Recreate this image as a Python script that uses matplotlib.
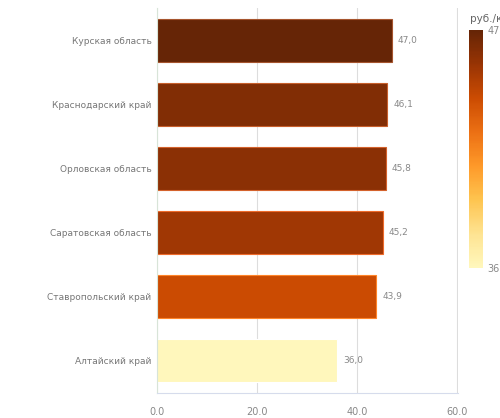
import matplotlib.pyplot as plt
from matplotlib import colors as mcolors
import numpy as np

regions = ["Курская область", "Краснодарский край", "Орловская область",
           "Саратовская область", "Ставропольский край", "Алтайский край"]
values = [47.0, 46.1, 45.8, 45.2, 43.9, 36.0]
xticks = [0, 20, 40, 60]

base = plt.get_cmap("YlOrBr")
cmap = mcolors.LinearSegmentedColormap.from_list(
    "trunc", base(np.linspace(0.125, 1.0, 256)))
norm = mcolors.Normalize(vmin=min(values), vmax=max(values))

fig = plt.figure(figsize=(5, 4.18), dpi=100)
ax = fig.add_axes([0.314, 0.06, 0.602, 0.921])

txt = "#888888"
y = np.arange(len(regions))
for i, v in enumerate(values):
    c = cmap(norm(v))
    edge = tuple(min(1, ch * 1.25 + 0.15) for ch in c[:3])
    ax.barh(i, v, height=0.67, color=c, edgecolor=edge, linewidth=0.8, zorder=2)
    ax.text(v + 1.2, i, f"{v:.1f}".replace(".", ","), va="center", ha="left",
            fontsize=6.5, color=txt)

ax.set_ylim(5.5, -0.5)
ax.set_xlim(0, 60.2)
ax.set_yticks(y)
ax.set_yticklabels(regions, fontsize=6.5, color="#777777")
ax.set_xticks(xticks)
ax.set_xticklabels([f"{t:.1f}" for t in xticks], fontsize=7, color=txt)
ax.tick_params(length=0, pad=4)
ax.tick_params(axis="x", pad=10)
ax.grid(axis="x", color="#dddddd", linewidth=0.8, zorder=0)
for s in ["top", "right"]:
    ax.spines[s].set_visible(False)
ax.spines["left"].set_color("#d8e4d8")
ax.spines["bottom"].set_color("#d6dcec")

cax = fig.add_axes([0.938, 0.359, 0.028, 0.569])
sm = plt.cm.ScalarMappable(norm=norm, cmap=cmap)
cb = fig.colorbar(sm, cax=cax)
cb.outline.set_visible(False)
cb.set_ticks([36, 47])
cb.set_ticklabels(["36", "47"])
cax.tick_params(length=0, labelsize=7, labelcolor=txt, pad=3)
fig.text(0.94, 0.955, "руб./кг", fontsize=7.5, color="#666666", ha="left", va="center")

plt.savefig("out.png", dpi=100)
